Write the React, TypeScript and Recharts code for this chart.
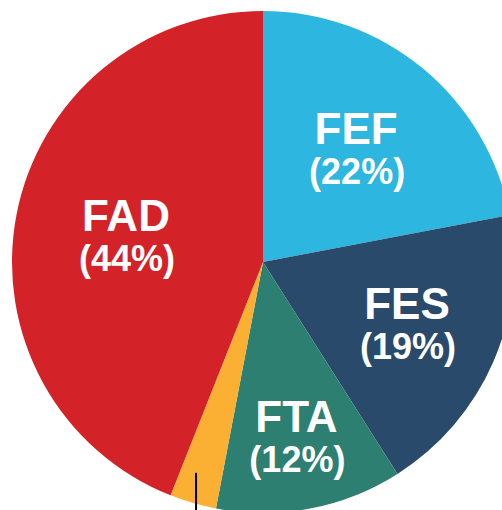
import { PieChart, Pie, Cell } from "recharts"

const names = ["FEF", "FES", "FTA", "Otros", "FAD"]
const shares = [22, 19, 12, 3, 44]
const colors = ["#2cb6e0", "#2a4a6b", "#2d8071", "#fbb034", "#d32228"]

const data = names.map((name, i) => ({ name, value: shares[i] }))

// how far out from the centre each label sits (fraction of radius)
const labelRadius: Record<string, number> = { FEF: 0.582, FES: 0.625, FTA: 0.71, FAD: 0.556 }

const RAD = Math.PI / 180

function renderLabel(props: any) {
  const { cx, cy, midAngle, outerRadius, name, value } = props
  const cos = Math.cos(midAngle * RAD)
  const sin = Math.sin(midAngle * RAD)
  if (!(name in labelRadius)) {
    // small slice: leader line running down out of view
    const x = cx + outerRadius * 0.956 * cos
    return (
      <line x1={x} y1={cy + outerRadius * 0.84} x2={x} y2={cy + outerRadius * 1.15} stroke="#000" strokeWidth={2} />
    )
  }
  const r = outerRadius * labelRadius[name]
  const x = cx + r * cos
  const y = cy - r * sin
  return (
    <g fill="#fff" fontFamily="'Liberation Sans', Arial, sans-serif" fontWeight="bold" textAnchor="middle">
      <text x={x} y={y - 5} fontSize={44} fill="#fff">{name}</text>
      <text x={x + 1} y={y + 35} fontSize={36} fill="#fff">({value}%)</text>
    </g>
  )
}

export default function App() {
  return (
    <div style={{ position: "absolute", left: 0, top: 0, width: 502, height: 510, background: "#fff", overflow: "hidden" }}>
      <PieChart width={502} height={510} margin={{ top: 0, right: 0, bottom: 0, left: 0 }}>
        <Pie
          data={data}
          dataKey="value"
          nameKey="name"
          cx={263}
          cy={262}
          innerRadius={0}
          outerRadius={251}
          startAngle={90}
          endAngle={-270}
          stroke="none"
          label={renderLabel}
          labelLine={false}
          isAnimationActive={false}
        >
          {data.map((d, i) => (
            <Cell key={d.name} fill={colors[i]} />
          ))}
        </Pie>
      </PieChart>
    </div>
  )
}
